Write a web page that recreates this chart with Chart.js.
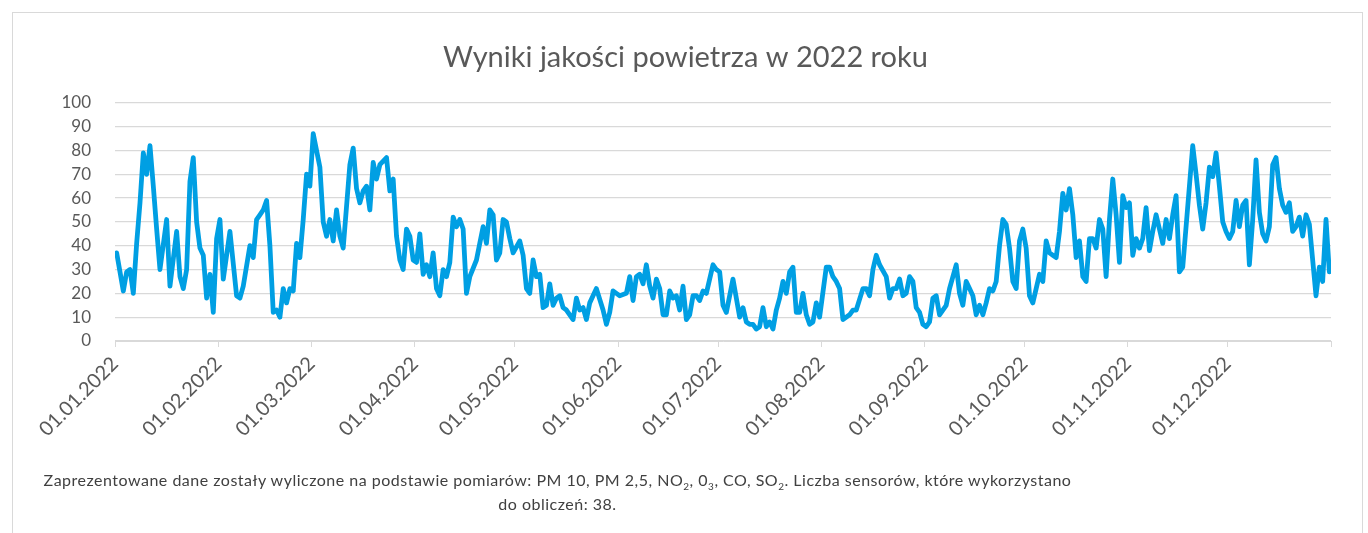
<!DOCTYPE html>
<html><head><meta charset="utf-8">
<script src="https://cdn.jsdelivr.net/npm/chart.js@4"></script>
<style>
html,body{margin:0;padding:0;background:#fff;}
#wrap{position:relative;width:1368px;height:533px;overflow:hidden;background:#fff;}
#frame{position:absolute;left:12px;top:12px;width:1351px;height:600px;border:1px solid #d9d9d9;box-sizing:border-box;}
#c{position:absolute;left:0;top:0;}
#note{position:absolute;left:20px;top:468px;width:1075px;text-align:center;font-family:Lato,sans-serif;font-size:16px;letter-spacing:0.5px;color:#404040;line-height:24px;white-space:nowrap;}
#note sub{font-size:10px;line-height:0;}
</style></head>
<body>
<div id="wrap">
<div id="frame"></div>
<canvas id="c" width="1368" height="533"></canvas>
<div id="note">Zaprezentowane dane zostały wyliczone na podstawie pomiarów: PM 10, PM 2,5, NO<sub>2</sub>, 0<sub>3</sub>, CO, SO<sub>2</sub>. Liczba sensorów, które wykorzystano<br>do obliczeń: 38.</div>
</div>
<script>
// Day of year (0 = 01.01.2022) and index value
const days = [0,2,3,4,5,6,7,8,9,10,11,12,13,15,16,18,19,20,21,22,23,24,25,26,27,28,29,30,31,32,34,36,37,38,40,41,42,43,44,45,46,47,48,49,50,51,52,53,54,55,56,57,58,59,60,61,62,63,64,65,66,67,68,70,71,72,73,74,75,76,77,78,79,81,82,83,84,85,86,87,88,89,90,91,92,93,94,95,96,97,98,99,100,101,102,103,104,105,106,108,109,110,111,112,113,114,115,116,117,118,119,121,122,123,124,125,126,127,128,129,130,131,132,133,134,135,137,138,139,140,141,142,144,146,147,148,149,150,151,153,154,155,156,157,158,159,160,161,162,163,164,165,166,167,168,169,170,171,172,173,174,175,176,177,179,180,181,182,183,185,186,187,188,189,190,191,192,193,194,195,196,197,198,199,200,201,202,203,204,205,206,207,208,209,210,211,213,214,215,216,217,218,220,221,222,224,225,226,227,228,229,231,232,233,234,235,236,237,238,239,240,241,242,243,244,245,246,247,248,249,250,252,253,254,255,256,257,258,259,260,261,262,263,264,265,266,267,268,269,270,271,272,273,274,275,276,277,278,279,280,281,282,283,284,285,286,287,288,289,290,291,292,293,294,295,296,297,298,299,300,301,302,303,304,305,306,307,308,309,310,311,312,313,314,315,316,317,318,319,320,323,324,325,326,327,328,329,330,331,332,333,334,335,336,337,338,339,340,341,342,343,344,345,346,347,348,349,350,351,352,353,354,355,356,357,358,359,360,361,362,363,364];
const values = [37,21,29,30,20,41,58,79,70,82,65,47,30,51,23,46,27,22,30,67,77,50,39,36,18,28,12,43,51,26,46,19,18,23,40,35,51,53,55,59,40,12,13,10,22,16,22,21,41,35,51,70,65,87,80,73,50,44,51,42,55,44,39,74,81,64,58,63,65,55,75,68,74,77,63,68,44,34,30,47,44,34,33,45,28,32,27,37,22,19,30,27,33,52,48,51,47,20,27,34,41,48,41,55,53,34,37,51,50,43,37,42,36,22,20,34,27,28,14,15,24,15,18,19,14,13,9,18,13,14,9,16,22,13,7,12,21,20,19,20,27,17,27,28,24,32,23,18,26,22,11,11,21,18,19,13,23,9,11,19,19,17,21,20,32,30,29,15,12,26,18,10,14,8,7,7,5,6,14,6,8,5,13,18,25,20,29,31,12,12,20,11,7,8,16,10,31,31,27,25,22,9,11,13,13,22,22,19,30,36,32,27,18,22,22,26,19,20,27,25,14,12,7,6,8,18,19,11,13,15,22,32,20,15,25,22,19,11,15,11,16,22,21,25,40,51,49,39,25,22,42,47,39,19,16,22,28,25,42,37,36,35,46,62,55,64,53,35,42,27,25,43,43,39,51,47,27,51,68,53,33,61,56,58,36,43,39,43,56,38,46,53,47,41,51,43,53,61,29,31,82,70,57,47,58,73,69,79,65,50,46,43,46,59,48,57,59,32,51,76,54,45,42,48,74,77,64,57,54,58,46,48,52,44,53,49,34,19,31,25,51,29];
const monthStarts = [0,31,59,90,120,151,181,212,243,273,304,334];
const monthLabels = ['01.01.2022','01.02.2022','01.03.2022','01.04.2022','01.05.2022','01.06.2022','01.07.2022','01.08.2022','01.09.2022','01.10.2022','01.11.2022','01.12.2022'];
const yTicks = [0,10,20,30,40,50,60,70,80,90,100];
const titleText = 'Wyniki jakości powietrza w 2022 roku';

const points = days.map((d,i)=>({x:d, y:values[i]}));
const tickVals = monthStarts.map(d=>d-0.5).concat([364.5]);
const labelFor = v => { const i = tickVals.indexOf(v); return i>=0 && i<monthLabels.length ? monthLabels[i] : ''; };

new Chart(document.getElementById('c'), {
  type:'line',
  data:{datasets:[{data:points, borderColor:'#009FE3', borderWidth:4.8, pointRadius:0, tension:0, borderJoinStyle:'round', borderCapStyle:'round', fill:false}]},
  options:{
    responsive:false, animation:false, maintainAspectRatio:false,
    layout:{padding:{left:40,right:37,top:0,bottom:0}},
    plugins:{
      legend:{display:false}, tooltip:{enabled:false},
      title:{display:true, text:titleText, color:'#595959', font:{family:'Lato', size:29, weight:'normal', lineHeight:1.2}, padding:{top:40,bottom:28}}
    },
    scales:{
      x:{type:'linear', min:-0.5, max:364.5,
        afterBuildTicks:s=>{ s.ticks = tickVals.map(v=>({value:v})); },
        afterFit:s=>{ s.height = 192; },
        ticks:{autoSkip:false, maxRotation:45, minRotation:45, padding:5, color:'#595959', font:{family:'Lato', size:20}, callback:v=>labelFor(v)},
        grid:{drawOnChartArea:false, drawTicks:true, tickLength:6, color:'#d9d9d9'},
        border:{display:true, color:'#d9d9d9'}
      },
      y:{min:0, max:100,
        afterBuildTicks:s=>{ s.ticks = yTicks.map(v=>({value:v})); },
        afterFit:s=>{ s.width = 75; },
        ticks:{padding:24, color:'#595959', font:{family:'Lato', size:17}},
        grid:{color:'#d9d9d9', drawTicks:false, lineWidth:1.3},
        border:{display:false}
      }
    }
  }
});
</script>
</body></html>
